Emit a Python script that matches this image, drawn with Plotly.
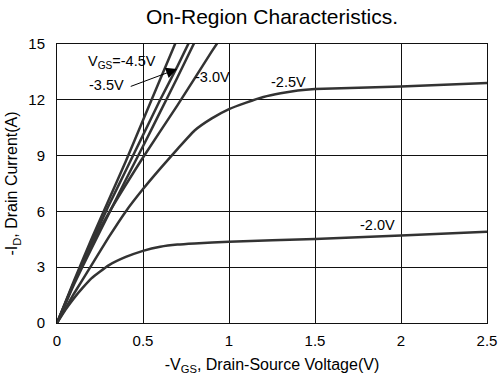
import plotly.graph_objects as go

# Data
x_45 = [0, 0.1, 0.2, 0.3, 0.4, 0.5, 0.6, 0.7]
y_45 = [0, 2.3, 4.5, 6.6, 8.7, 10.9, 13.1, 15.3]

x_40 = [0, 0.1, 0.2, 0.3, 0.4, 0.5, 0.6, 0.7, 0.8]
y_40 = [0, 2.2, 4.3, 6.3, 8.2, 10.1, 12.0, 13.8, 15.7]

x_35 = [0, 0.1, 0.2, 0.3, 0.4, 0.5, 0.6, 0.7, 0.8]
y_35 = [0, 2.1, 4.0, 5.85, 7.7, 9.5, 11.35, 13.2, 15.1]

x_30 = [0, 0.05, 0.1, 0.15, 0.2, 0.3, 0.5, 0.7, 0.9, 1.0]
y_30 = [0, 1.1, 2.2, 3.2, 4.2, 5.9, 8.9, 11.7, 14.6, 16.0]

x_25 = [0, 0.1, 0.2, 0.3, 0.4, 0.5, 0.6, 0.7, 0.8, 0.9, 1.0, 1.1, 1.2, 1.3, 1.4, 1.5, 2.0, 2.5]
y_25 = [0, 1.6, 3.1, 4.6, 6.0, 7.2, 8.3, 9.35, 10.35, 11.0, 11.5, 11.85, 12.15, 12.35, 12.5, 12.58, 12.72, 12.9]

x_20 = [0, 0.05, 0.1, 0.15, 0.2, 0.3, 0.4, 0.5, 0.6, 0.7, 0.8, 1.0, 1.5, 2.0, 2.5]
y_20 = [0, 0.72, 1.35, 1.9, 2.4, 3.1, 3.55, 3.88, 4.1, 4.22, 4.28, 4.37, 4.52, 4.7, 4.9]

x_ticks = [0, 0.5, 1, 1.5, 2, 2.5]
x_tick_labels = ["0", "0.5", "1", "1.5", "2", "2.5"]
y_ticks = [0, 3, 6, 9, 12, 15]

series = [(x_45, y_45), (x_40, y_40), (x_35, y_35), (x_30, y_30), (x_25, y_25), (x_20, y_20)]

fig = go.Figure()
for xs, ys in series:
    fig.add_trace(go.Scatter(x=xs, y=ys, mode="lines",
                             line=dict(color="#333333", width=2.5, shape="spline", smoothing=0.4),
                             showlegend=False, cliponaxis=True))

font = "Liberation Sans, Arial, sans-serif"

ann = [
    dict(x=0.169, y=14.05, text="V<sub>GS</sub>=-4.5V", xanchor="left"),
    dict(x=0.172, y=12.8, text="-3.5V", xanchor="left"),
    dict(x=0.79, y=13.2, text="-3.0V", xanchor="left"),
    dict(x=1.23, y=12.97, text="-2.5V", xanchor="left"),
    dict(x=1.977, y=5.27, text="-2.0V", xanchor="right"),
]
for a in ann:
    fig.add_annotation(x=a["x"], y=a["y"], text=a["text"], xanchor=a["xanchor"], yanchor="middle",
                       showarrow=False, font=dict(family=font, size=14.5, color="black"))

fig.add_annotation(x=0.698, y=13.65, ax=0.42, ay=12.69, axref="x", ayref="y", xref="x", yref="y",
                   text="", showarrow=True, arrowhead=2, arrowsize=2.2, arrowwidth=1, arrowcolor="black")

fig.update_layout(
    width=502, height=378,
    margin=dict(l=57, r=15, t=44, b=55),
    paper_bgcolor="white", plot_bgcolor="white",
    font=dict(family=font, size=15, color="black"),
    title=dict(text="On-Region Characteristics.", x=(57 + 487) / 2 / 502, xanchor="center",
               y=1 - 17 / 378, yanchor="middle", font=dict(family=font, size=21, color="black")),
)
fig.update_xaxes(range=[0, 2.5], tickvals=x_ticks, ticktext=x_tick_labels, showgrid=True,
                 gridcolor="#111111", gridwidth=1, zeroline=False, showline=True, linecolor="#111111",
                 linewidth=1, mirror=True, ticks="outside", ticklen=4, tickcolor="white",
                 tickfont=dict(size=15), automargin=False,
                 title=dict(text="-V<sub>GS</sub>, Drain-Source Voltage(V)", font=dict(size=16), standoff=10))
fig.update_yaxes(range=[0, 15], tickvals=y_ticks, showgrid=True,
                 gridcolor="#111111", gridwidth=1, zeroline=False, showline=True, linecolor="#111111",
                 linewidth=1, mirror=True, ticks="outside", ticklen=8, tickcolor="white",
                 tickfont=dict(size=15), automargin=False,
                 title=dict(text="-I<sub>D</sub>, Drain Current(A)", font=dict(size=16), standoff=6))

fig.write_html("out.html")
